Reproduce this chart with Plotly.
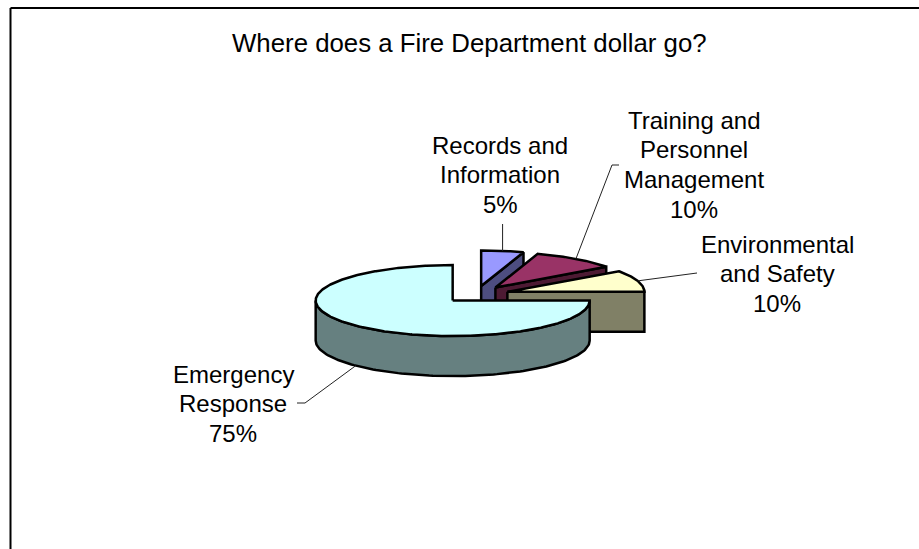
import numpy as np
import plotly.graph_objects as go

# Budget shares (percent of each dollar)
categories = ["Records and Information", "Training and Personnel Management",
              "Environmental and Safety", "Emergency Response"]
label_lines = [["Records and", "Information"], ["Training and", "Personnel", "Management"],
               ["Environmental", "and Safety"], ["Emergency", "Response"]]
shares = [5, 10, 10, 75]

top_colors = ["#9999FF", "#993366", "#FFFFCC", "#CCFFFF"]
side_colors = ["#4D4D80", "#4D1A33", "#808066", "#668080"]

# Figure canvas in pixel units
W, H = 919, 549
CX, CY = 476.0, 294.5      # pie centre
RX, RY = 137.0, 35.5       # projected radii of the top ellipse
DEPTH = 40.0               # wall height
EXPLODE = 33.0             # explosion distance (x units)
FONT = "Liberation Sans, Arial, sans-serif"
LABEL_SIZE = 24
LINE_PITCH = 29.7


def rim(cx, cy, ang):
    a = np.radians(ang)
    return cx + RX * np.sin(a), cy - RY * np.cos(a)


total = float(sum(shares))
bounds = np.concatenate([[0.0], np.cumsum(shares) / total * 360.0])

slices = []
for i, v in enumerate(shares):
    a0, a1 = bounds[i], bounds[i + 1]
    mid = (a0 + a1) / 2
    m = np.radians(mid)
    vx = CX + EXPLODE * np.sin(m)
    vy = CY - EXPLODE * RY / RX * np.cos(m)
    slices.append(dict(i=i, a0=a0, a1=a1, mid=mid, vx=vx, vy=vy))

fig = go.Figure()


def face(xs, ys, color):
    fig.add_trace(go.Scatter(
        x=list(xs), y=list(ys), mode="lines", fill="toself", fillcolor=color,
        line=dict(color="black", width=2.5), hoverinfo="skip", showlegend=False))


# paint from back to front
for s in sorted(slices, key=lambda d: d["vy"]):
    i, a0, a1, vx, vy = s["i"], s["a0"], s["a1"], s["vx"], s["vy"]
    # curved outer wall on the front half
    lo, hi = max(a0, 90.0), min(a1, 270.0)
    if hi > lo:
        ang = np.linspace(lo, hi, 120)
        xs, ys = rim(vx, vy, ang)
        face(np.concatenate([xs, xs[::-1], xs[:1]]),
             np.concatenate([ys, ys[::-1] + DEPTH, ys[:1]]), side_colors[i])
    # radial walls that face the viewer
    for edge, facing in ((a1, np.sin(np.radians(a1))), (a0, -np.sin(np.radians(a0)))):
        if facing > 1e-6:
            ex, ey = rim(vx, vy, edge)
            face([vx, ex, ex, vx, vx], [vy, ey, ey + DEPTH, vy + DEPTH, vy], side_colors[i])
    # top face
    ang = np.linspace(a0, a1, max(8, int((a1 - a0) * 2)))
    xs, ys = rim(vx, vy, ang)
    face(np.concatenate([[vx], xs, [vx]]), np.concatenate([[vy], ys, [vy]]), top_colors[i])

# data labels (centre x, centre y of first line) with leader lines
label_pos = [(500, 145), (694, 120), (777, 244), (233, 374)]
leader_ends = [[(None, 224)], [(612, 165), (619, 165)], [(697, 273)], [(305, 403), (297, 403)]]
for s in slices:
    i = s["i"]
    sx, sy = rim(s["vx"], s["vy"], s["mid"])
    if 90 < s["mid"] < 270:
        sy += DEPTH
    px, py = [sx], [sy]
    for ex, ey in leader_ends[i]:
        px.append(sx if ex is None else ex)
        py.append(ey)
    fig.add_trace(go.Scatter(x=px, y=py, mode="lines", line=dict(color="#222222", width=1),
                             hoverinfo="skip", showlegend=False))
    lx, ly = label_pos[i]
    lines = label_lines[i] + [f"{shares[i]}%"]
    for k, txt in enumerate(lines):
        fig.add_annotation(x=lx, y=ly + k * LINE_PITCH, xref="x", yref="y", showarrow=False,
                           text=txt, xanchor="center", yanchor="middle",
                           font=dict(family=FONT, size=LABEL_SIZE, color="black"))

fig.add_annotation(x=469, y=43, xref="x", yref="y", showarrow=False,
                   text="Where does a Fire Department dollar go?",
                   xanchor="center", yanchor="middle",
                   font=dict(family=FONT, size=25.8, color="black"))

# chart frame
fig.add_shape(type="line", x0=10.5, y0=8, x1=10.5, y1=600, xref="x", yref="y",
              line=dict(color="black", width=2))
fig.add_shape(type="line", x0=10.5, y0=8, x1=960, y1=8, xref="x", yref="y",
              line=dict(color="black", width=2))

fig.update_layout(
    width=W, height=H, autosize=False,
    margin=dict(l=0, r=0, t=0, b=0),
    paper_bgcolor="white", plot_bgcolor="white",
    xaxis=dict(range=[0, W], visible=False, fixedrange=True),
    yaxis=dict(range=[H, 0], visible=False, fixedrange=True),
)

fig.write_html("out.html")
